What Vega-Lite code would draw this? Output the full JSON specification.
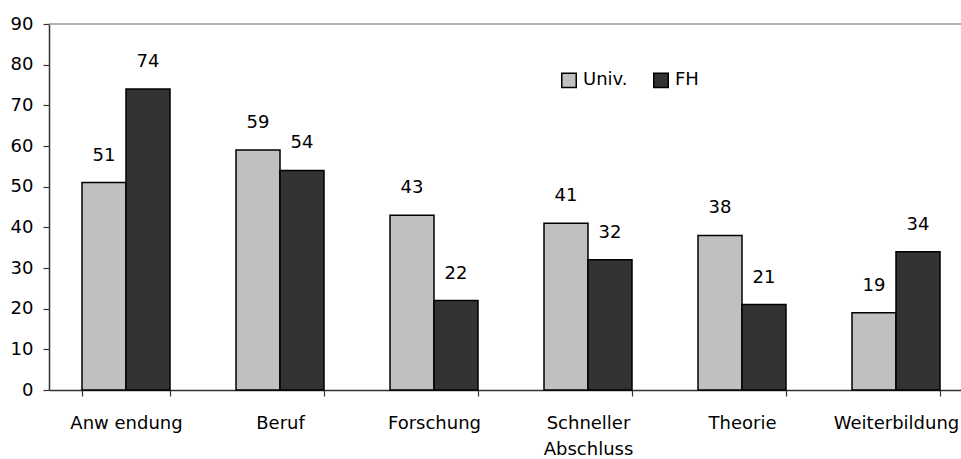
{
  "$schema": "https://vega.github.io/schema/vega-lite/v6.json",
  "autosize": "none",
  "width": 912,
  "height": 366,
  "padding": {"left": 49, "top": 24, "right": 0, "bottom": 69},
  "background": "white",
  "config": {
    "view": {"stroke": null},
    "font": "DejaVu Sans",
    "axis": {"labelFont": "DejaVu Sans", "labelFontSize": 18, "labelColor": "#000", "domainColor": "#333", "tickColor": "#333", "domainWidth": 1.5, "tickWidth": 1.2, "grid": false, "title": null}
  },
  "data": {
    "values": [
      {"kat": "Anw endung", "gruppe": "Univ.", "wert": 51},
      {"kat": "Anw endung", "gruppe": "FH", "wert": 74},
      {"kat": "Beruf", "gruppe": "Univ.", "wert": 59},
      {"kat": "Beruf", "gruppe": "FH", "wert": 54},
      {"kat": "Forschung", "gruppe": "Univ.", "wert": 43},
      {"kat": "Forschung", "gruppe": "FH", "wert": 22},
      {"kat": "Schneller Abschluss", "gruppe": "Univ.", "wert": 41},
      {"kat": "Schneller Abschluss", "gruppe": "FH", "wert": 32},
      {"kat": "Theorie", "gruppe": "Univ.", "wert": 38},
      {"kat": "Theorie", "gruppe": "FH", "wert": 21},
      {"kat": "Weiterbildung", "gruppe": "Univ.", "wert": 19},
      {"kat": "Weiterbildung", "gruppe": "FH", "wert": 34}
    ]
  },
  "encoding": {
    "x": {
      "field": "kat", "type": "nominal", "sort": null,
      "scale": {"range": [0, 924], "paddingInner": 0.4286, "paddingOuter": 0.2143},
      "axis": {"labelAngle": 0, "tickBand": "extent", "tickSize": 6, "labelPadding": 18, "labelBaseline": "top", "labelLineHeight": 26,
        "labelExpr": "datum.value == 'Schneller Abschluss' ? ['Schneller', 'Abschluss'] : datum.value"}
    }
  },
  "layer": [
    {
      "mark": {"type": "bar", "stroke": "#000", "strokeWidth": 1.5},
      "encoding": {
        "xOffset": {"field": "gruppe", "type": "nominal", "sort": ["Univ.", "FH"], "scale": {"paddingInner": 0, "paddingOuter": 0}},
        "y": {"field": "wert", "type": "quantitative", "scale": {"domain": [0, 90], "nice": false},
          "axis": {"values": [0, 10, 20, 30, 40, 50, 60, 70, 80, 90], "tickSize": 6, "labelPadding": 10}},
        "fill": {"field": "gruppe", "type": "nominal", "sort": ["Univ.", "FH"],
          "scale": {"domain": ["Univ.", "FH"], "range": ["#c0c0c0", "#333333"]},
          "legend": {"title": null, "orient": "none", "direction": "horizontal", "legendX": 511, "legendY": 47,
            "symbolType": "square", "symbolSize": 210, "symbolStrokeColor": "#000", "symbolStrokeWidth": 1.5,
            "labelFontSize": 18, "labelFont": "DejaVu Sans", "labelColor": "#000", "labelOffset": 5, "columnPadding": 22}}
      }
    },
    {
      "mark": {"type": "text", "fontSize": 18, "font": "DejaVu Sans", "color": "#000", "baseline": "middle", "dy": -27},
      "encoding": {
        "xOffset": {"field": "gruppe", "type": "nominal", "sort": ["Univ.", "FH"], "scale": {"paddingInner": 0, "paddingOuter": 0}},
        "y": {"field": "wert", "type": "quantitative"},
        "text": {"field": "wert", "type": "quantitative"}
      }
    },
    {
      "data": {"values": [{"top": 90}]},
      "mark": {"type": "rule", "color": "#999", "strokeWidth": 1.5},
      "encoding": {"y": {"field": "top", "type": "quantitative"}, "x": {"value": 0}, "x2": {"value": 924}}
    }
  ]
}
